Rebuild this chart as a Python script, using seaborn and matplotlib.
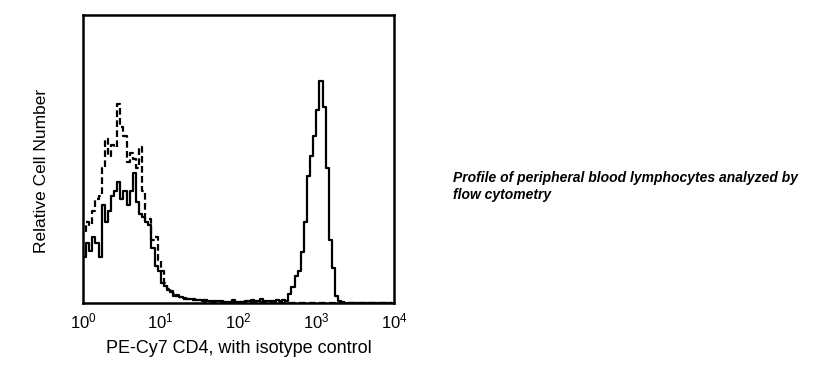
import numpy as np
import pandas as pd
import matplotlib
matplotlib.use("Agg")
import matplotlib.pyplot as plt
import seaborn as sns

# Log10 channel bins (0.04 decade wide) from 10^0 to 10^4
bin_width = 0.04
n_bins = 100

# Isotype control (dashed), relative counts (% of axis height)
isotype = [25, 28, 27, 32, 36, 37, 47, 57, 51, 55,
           54, 69, 61, 58, 49, 52, 50, 47, 54, 39,
           29, 29, 22, 23, 15, 11, 7, 5, 4, 3,
           2.5, 2, 1.5, 1.5, 1, 1, 1, 0.8, 0.8, 0.5,
           0.5, 0.4, 0.3, 0.3, 0.3, 0.2, 0.2, 0.3, 0.2, 0.2,
           0.2, 0.3, 0.2, 0.2, 0.2, 0.2, 0.2, 0.2, 0.2, 0.2,
           0.2, 0.2, 0.2, 0.1, 0.1, 0.1, 0.1, 0.1, 0.1, 0.1] + [0.0] * 30

# PE-Cy7 CD4 stained (solid)
cd4 = [16, 21, 18, 23, 21, 16, 34, 28, 32, 37,
       39, 42, 36, 39, 34, 39, 45, 35, 31, 30,
       28, 27, 19, 13, 11, 7, 6, 4.4, 3.8, 2.6,
       2.9, 2, 1.7, 1.5, 1.3, 1.3, 1.1, 1, 0.9, 0.9,
       0.8, 0.7, 0.6, 0.8, 0.7, 0.5, 0.3, 0.3, 1, 0.2,
       0.2, 0.2, 0.8, 0.7, 0.9, 0.6, 0.8, 1.3, 0.8, 0.7,
       0.8, 0.8, 0.9, 0.8, 1, 0.6, 3.2, 5.5, 9.5, 11,
       17.6, 28, 44, 51, 58, 67, 77, 68, 47, 22,
       12, 2.6, 0.8, 0.3] + [0.0] * 16

log_centers = bin_width * (np.arange(n_bins) + 0.5)
df = pd.DataFrame({
    "intensity": np.concatenate([10 ** log_centers, 10 ** log_centers]),
    "count": isotype + cd4,
    "sample": ["isotype"] * n_bins + ["CD4"] * n_bins,
})

sns.set_theme(style="white")
plt.rcParams["font.family"] = ["Liberation Sans", "DejaVu Sans"]
plt.rcParams["mathtext.fontset"] = "custom"
plt.rcParams["mathtext.rm"] = "Liberation Sans"
plt.rcParams["mathtext.it"] = "Liberation Sans:italic"

fig = plt.figure(figsize=(8.22, 3.78), dpi=100)
ax = fig.add_axes([83 / 822, 1 - 303 / 378, (394 - 83) / 822, (303 - 15) / 378])

sns.lineplot(data=df[df["sample"] == "isotype"], x="intensity", y="count",
             ax=ax, color="black", linewidth=1.6, drawstyle="steps-mid",
             dashes=False, linestyle=(0, (3, 1.5)))
sns.lineplot(data=df[df["sample"] == "CD4"], x="intensity", y="count",
             ax=ax, color="black", linewidth=1.6, drawstyle="steps-mid")

ax.set_xscale("log")
ax.set_xlim(1, 1e4)
ax.set_ylim(0, 100)
ax.set_xticks([1, 10, 100, 1000, 10000])
ax.set_xticklabels([r"$10^{0}$", r"$10^{1}$", r"$10^{2}$", r"$10^{3}$", r"$10^{4}$"],
                   fontsize=12)
ax.minorticks_off()
ax.set_yticks([])
ax.tick_params(axis="x", length=0, pad=6, colors="black")
ax.set_xlabel("PE-Cy7 CD4, with isotype control", fontsize=13, labelpad=6, color="black")
ax.set_ylabel("Relative Cell Number", fontsize=12.5, color="black")
ax.yaxis.set_label_coords(-0.108, 0.46)
for s in ax.spines.values():
    s.set_visible(True)
    s.set_color("black")
    s.set_linewidth(1.8)

fig.text(453 / 822, 1 - 171 / 378,
         "Profile of peripheral blood lymphocytes analyzed by\nflow cytometry",
         fontsize=10, fontweight="bold", fontstyle="italic", ha="left", va="top",
         linespacing=1.3, color="black")

fig.savefig("out.png", dpi=100, facecolor="white")
